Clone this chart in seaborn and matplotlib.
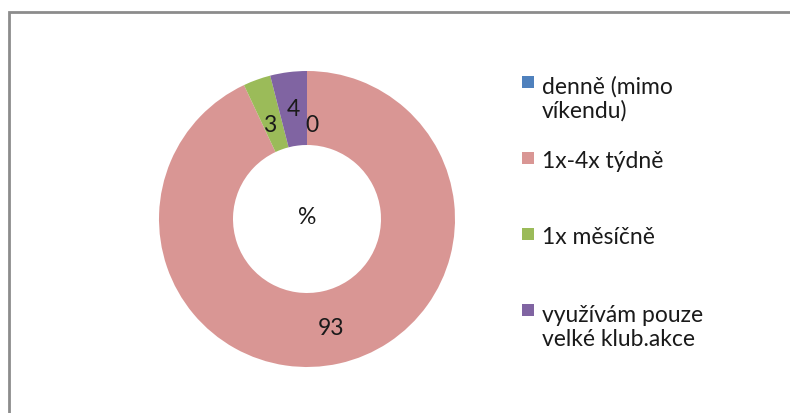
import numpy as np
import matplotlib
matplotlib.use("Agg")
import matplotlib.pyplot as plt
from matplotlib.patches import Rectangle
import seaborn as sns

sns.set_theme(style="white")
plt.rcParams["font.family"] = ["Lato", "DejaVu Sans"]

categories = ["denně (mimo\nvíkendu)", "1x-4x týdně", "1x měsíčně", "využívám pouze\nvelké klub.akce"]
values = [0, 93, 3, 4]
colors = ["#4F81BD", "#D99694", "#9BBB59", "#8064A2"]
center_label = "%"

W, H = 790, 414
fig = plt.figure(figsize=(W / 100, H / 100), dpi=100)

# chart frame (only top and left edges visible in the crop)
fig.patches.append(Rectangle((9 / W, -0.1), 1.2, (414 - 13) / H + 0.1,
                             transform=fig.transFigure, fill=False,
                             edgecolor="#8c8c8c", linewidth=2))

cx, cy, r = 307, 220, 148
ax = fig.add_axes([(cx - r) / W, (H - cy - r) / H, 2 * r / W, 2 * r / H])
wedges, _ = ax.pie(values, colors=colors, startangle=90, counterclock=False,
                   radius=1, wedgeprops=dict(width=0.5, linewidth=0))
ax.set_xlim(-1, 1)
ax.set_ylim(-1, 1)
ax.set_aspect("equal")
ax.axis("off")

# label nudges in axes units, excel shifts the small ones apart
nudge = {0: (0.03, -0.11), 2: (0.0, -0.07)}
for i, (w, v) in enumerate(zip(wedges, values)):
    ang = np.deg2rad((w.theta1 + w.theta2) / 2)
    x, y = 0.75 * np.cos(ang), 0.75 * np.sin(ang)
    dx, dy = nudge.get(i, (0, 0))
    ax.text(x + dx, y + dy, str(v), ha="center", va="center", fontsize=16.5, color="#1a1a1a")
ax.text(0, 0.02, center_label, ha="center", va="center", fontsize=16.5, color="#1a1a1a")

# legend, handle aligned with the first text line
line_px = 26
for i, (lab, col) in enumerate(zip(categories, colors)):
    y = 83 + i * 76
    n_extra = lab.count("\n")
    fig.patches.append(Rectangle((522 / W, 1 - (y + 6) / H), 12 / W, 12 / H,
                                 transform=fig.transFigure, facecolor=col, edgecolor="none"))
    fig.text(542 / W, 1 - (y + 9 + n_extra * line_px) / H, lab, ha="left", va="baseline",
             fontsize=16.5, linespacing=1.15, color="#1a1a1a")

fig.savefig("out.png", dpi=100)
